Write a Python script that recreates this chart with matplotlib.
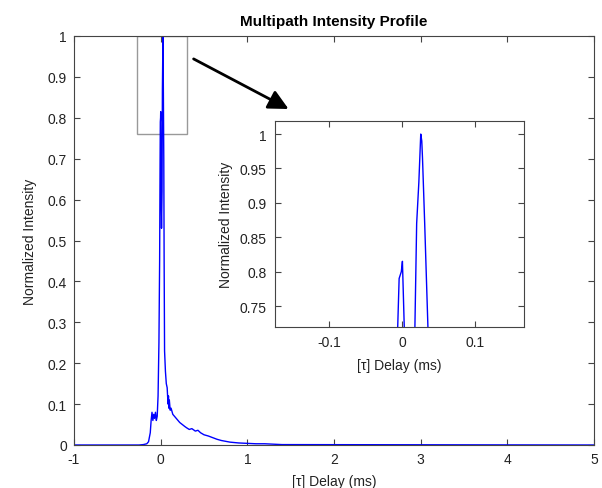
import matplotlib
matplotlib.use("Agg")
import matplotlib.pyplot as plt
from matplotlib.patches import Rectangle

plt.rcParams['font.family'] = ['Liberation Sans', 'DejaVu Sans']

delay = [-1.0, -0.25, -0.2, -0.16, -0.14, -0.12, -0.11, -0.10, -0.09, -0.08, -0.07,
         -0.06, -0.05, -0.04, -0.03, -0.02, -0.012, -0.0065, -0.004, -0.001, 0.0005,
         0.003, 0.005, 0.010, 0.016, 0.020, 0.023, 0.0256, 0.027, 0.028, 0.031,
         0.036, 0.040, 0.045, 0.055, 0.065, 0.075, 0.085, 0.09, 0.095, 0.10, 0.11,
         0.12, 0.14, 0.16, 0.18, 0.20, 0.22, 0.25, 0.28, 0.30, 0.33, 0.36, 0.40,
         0.43, 0.46, 0.50, 0.55, 0.60, 0.65, 0.70, 0.80, 0.90, 1.0, 1.1, 1.2, 1.4, 5.0]
intensity = [0.0, 0.0, 0.001, 0.003, 0.008, 0.03, 0.06, 0.08, 0.06, 0.075, 0.065,
             0.08, 0.06, 0.07, 0.12, 0.25, 0.45, 0.70, 0.79, 0.80, 0.815,
             0.72, 0.60, 0.53, 0.62, 0.87, 0.93, 1.0, 0.99, 0.965, 0.87,
             0.70, 0.45, 0.23, 0.18, 0.15, 0.14, 0.10, 0.12, 0.09, 0.11, 0.085,
             0.09, 0.075, 0.07, 0.065, 0.06, 0.055, 0.05, 0.045, 0.042, 0.038, 0.040, 0.034,
             0.036, 0.030, 0.025, 0.022, 0.018, 0.014, 0.011, 0.007, 0.005, 0.004, 0.003, 0.003, 0.001, 0.0]

main_xticks = [-1, 0, 1, 2, 3, 4, 5]
main_yticks = [0, 0.1, 0.2, 0.3, 0.4, 0.5, 0.6, 0.7, 0.8, 0.9, 1]
inset_xticks = [-0.1, 0, 0.1]
inset_yticks = [0.75, 0.8, 0.85, 0.9, 0.95, 1]

frame = '#444444'
txt = '#222222'
fs = 10

fig = plt.figure(figsize=(6.02, 4.89), dpi=100)
ax = fig.add_axes([74/602, 1-446/489, 520/602, 409/489])
ax.plot(delay, intensity, color='blue', lw=1.0)
ax.set_xlim(-1, 5)
ax.set_ylim(0, 1)
ax.set_xticks(main_xticks)
ax.set_xticklabels([str(t) for t in main_xticks])
ax.set_yticks(main_yticks)
ax.set_yticklabels(['0', '0.1', '0.2', '0.3', '0.4', '0.5', '0.6', '0.7', '0.8', '0.9', '1'])
ax.tick_params(direction='in', top=True, right=True, labelsize=fs, length=4,
               color=frame, labelcolor=txt, pad=5)
for s in ax.spines.values():
    s.set_color(frame)
ax.set_title('Multipath Intensity Profile', fontsize=11, fontweight='bold', pad=8)
ax.set_xlabel('[\u03c4] Delay (ms)', fontsize=fs, labelpad=6, color=txt)
ax.set_ylabel('Normalized Intensity', fontsize=fs, labelpad=8, color=txt)

# zoom box
ax.add_patch(Rectangle((-0.277, 0.76), 0.577, 0.24, fill=False, edgecolor='#999999', lw=1.0))

# arrow
ax.annotate('', xy=(1.476, 0.8215), xytext=(0.38, 0.944),
            arrowprops=dict(arrowstyle='-|>,head_length=1.2,head_width=0.6',
                            color='black', lw=2, shrinkA=0, shrinkB=0))

ins = fig.add_axes([275/602, 1-328/489, 249/602, 206/489])
ins.plot(delay, intensity, color='blue', lw=1.0)
ins.set_xlim(-0.174, 0.167)
ins.set_ylim(0.7195, 1.019)
ins.set_xticks(inset_xticks)
ins.set_xticklabels(['-0.1', '0', '0.1'])
ins.set_yticks(inset_yticks)
ins.set_yticklabels(['0.75', '0.8', '0.85', '0.9', '0.95', '1'])
ins.tick_params(direction='in', top=True, right=True, labelsize=fs, length=4,
                color=frame, labelcolor=txt, pad=6)
for s in ins.spines.values():
    s.set_color(frame)
ins.set_xlabel('[\u03c4] Delay (ms)', fontsize=fs, labelpad=6, color=txt)
ins.set_ylabel('Normalized Intensity', fontsize=fs, labelpad=5, color=txt)

fig.savefig('out.png', dpi=100)
